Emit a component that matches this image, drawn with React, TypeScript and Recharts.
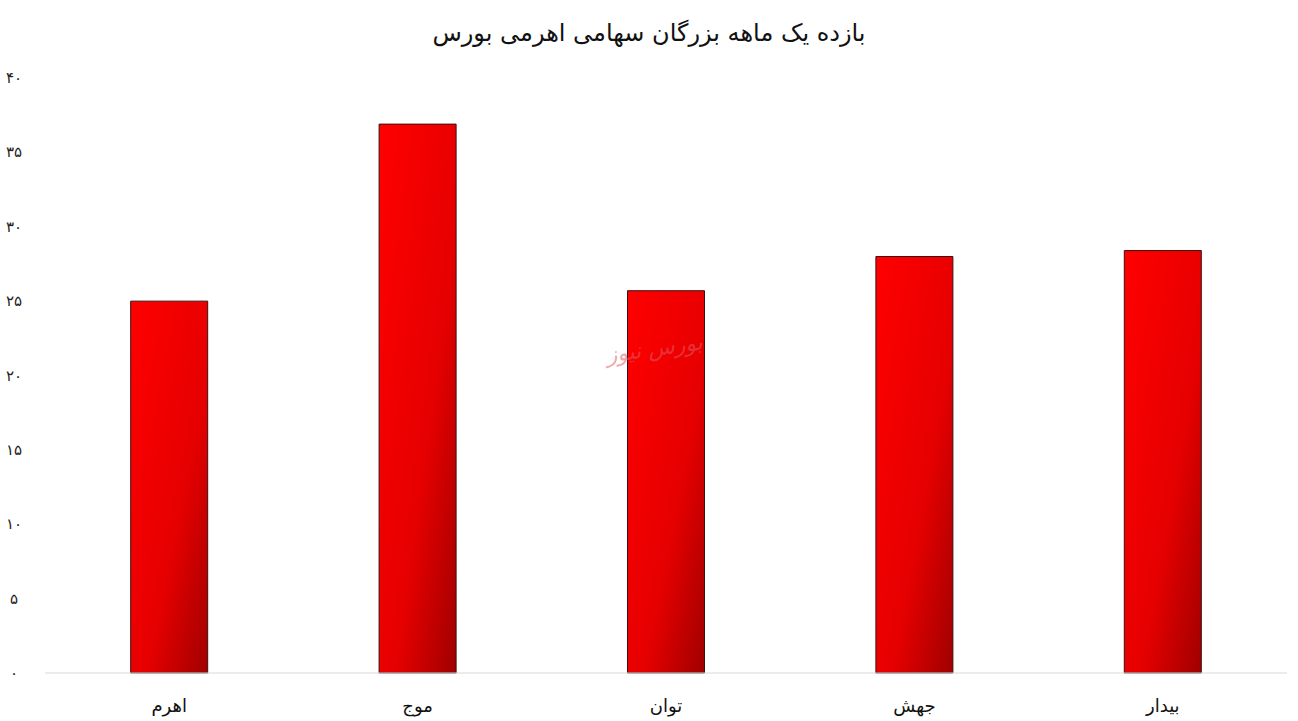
import React from 'react';
import { BarChart, Bar, XAxis, YAxis } from 'recharts';

const categories = ['اهرم', 'موج', 'توان', 'جهش', 'بیدار'];
const returns = [25.0, 36.9, 25.7, 28.0, 28.4];
const yTicks = [0, 5, 10, 15, 20, 25, 30, 35, 40];

const data = categories.map((name, i) => ({ name, value: returns[i] }));

const FA_DIGITS = '۰۱۲۳۴۵۶۷۸۹';
const toFa = (n: number) => String(n).replace(/\d/g, (d) => FA_DIGITS[Number(d)]);

const FONT = '"DejaVu Sans", sans-serif';

function YTick({ y, payload }: any) {
  return (
    <text x={14} y={y} textAnchor="middle" dominantBaseline="central" fontSize={15} fill="#222" fontFamily={FONT}>
      {toFa(payload.value)}
    </text>
  );
}

export default function App() {
  return (
    <div style={{ position: 'absolute', left: 0, top: 0, width: 1298, height: 721, background: '#fff' }}>
      <div
        style={{
          position: 'absolute',
          top: 19,
          left: 0,
          width: 1298,
          textAlign: 'center',
          fontFamily: FONT,
          fontSize: 24,
          color: '#111',
          direction: 'rtl',
        }}
      >
        بازده یک ماهه بزرگان سهامی اهرمی بورس
      </div>
      <BarChart
        width={1298}
        height={721}
        data={data}
        margin={{ top: 78, right: 11, bottom: 0, left: 0 }}
        barCategoryGap="34.5%"
      >
        <defs>
          <linearGradient id="barFill" x1="0" y1="0" x2="1" y2="1">
            <stop offset="0%" stopColor="#ff0000" />
            <stop offset="60%" stopColor="#e60000" />
            <stop offset="100%" stopColor="#a00000" />
          </linearGradient>
        </defs>
        <XAxis
          dataKey="name"
          axisLine={{ stroke: '#d9d9d9' }}
          tickLine={false}
          tickSize={0}
          tickMargin={26}
          height={48}
          tick={{ fontSize: 18, fill: '#111', fontFamily: FONT }}
        />
        <YAxis
          domain={[0, 40]}
          ticks={yTicks}
          width={45}
          axisLine={false}
          tickLine={false}
          tick={<YTick />}
        />
        <Bar dataKey="value" fill="url(#barFill)" stroke="#3a1010" strokeWidth={1} isAnimationActive={false} />
      </BarChart>
      <div
        style={{
          position: 'absolute',
          left: 606,
          top: 336,
          fontFamily: FONT,
          fontSize: 22,
          fontStyle: 'italic',
          color: 'rgba(225, 90, 100, 0.55)',
          direction: 'rtl',
          transform: 'rotate(-8deg)',
        }}
      >
        بورس نیوز
      </div>
    </div>
  );
}
